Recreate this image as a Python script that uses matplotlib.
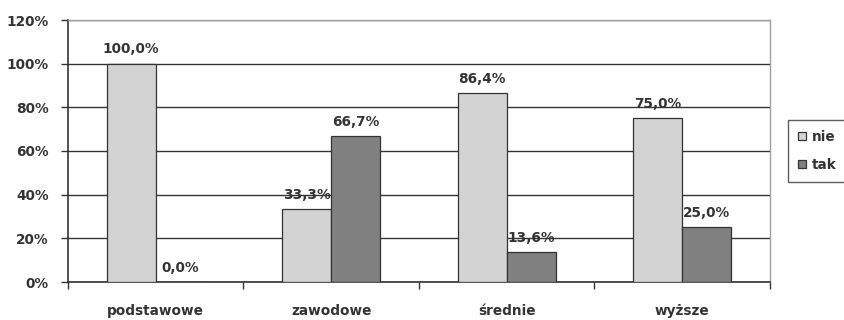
import numpy as np
import matplotlib.pyplot as plt
from matplotlib.ticker import FuncFormatter

# dane z wykresu
kategorie = ['podstawowe', 'zawodowe', 'średnie', 'wyższe']
nie = [100.0, 33.3, 86.4, 75.0]
tak = [0.0, 66.7, 13.6, 25.0]
serie = ['nie', 'tak']
kolory = ['#d3d3d3', '#808080']

plt.rcParams['font.family'] = ['DejaVu Sans']
plt.rcParams['font.weight'] = 'bold'

fig = plt.figure(figsize=(8.45, 3.2), dpi=100)
ax = fig.add_axes([68 / 845, 1 - 282 / 320, (770 - 68) / 845, (282 - 20) / 320])

x = np.arange(len(kategorie))
w = 0.28
b1 = ax.bar(x - w / 2, nie, w, color=kolory[0], edgecolor='#333333', linewidth=0.9, label=serie[0], zorder=3)
b2 = ax.bar(x + w / 2, tak, w, color=kolory[1], edgecolor='#333333', linewidth=0.9, label=serie[1], zorder=3)

# etykiety nad słupkami
for bars in (b1, b2):
    for r in bars:
        v = r.get_height()
        ax.text(r.get_x() + r.get_width() / 2, v + 3.3, f'{v:.1f}%'.replace('.', ','),
                ha='center', va='bottom', fontsize=9.8, fontweight='bold', color='#333333', zorder=4)

ax.set_xlim(-0.5, 3.5)
ax.set_ylim(0, 120)
ax.set_yticks(np.arange(0, 121, 20))
ax.yaxis.set_major_formatter(FuncFormatter(lambda v, p: f'{v:.0f}%'))
ax.yaxis.grid(True, color='#333333', linewidth=1.0, zorder=0)
ax.set_xticks(x)
ax.set_xticklabels(kategorie, fontsize=9.8, fontweight='bold', color='#333333')
ax.set_xticks(np.arange(-0.5, 4, 1), minor=True)
ax.tick_params(axis='x', which='major', length=0, pad=16)
ax.tick_params(axis='x', which='minor', length=5, width=1, color='#333333', direction='out')
ax.tick_params(axis='y', length=5, width=1, color='#333333', labelsize=9.8, labelcolor='#333333', pad=9)

for s in ('left', 'bottom'):
    ax.spines[s].set_color('#333333')
    ax.spines[s].set_linewidth(1.2)
for s in ('top', 'right'):
    ax.spines[s].set_color('#a0a0a0')
    ax.spines[s].set_linewidth(1.0)

leg = ax.legend(loc='center left', bbox_to_anchor=(788 / 845, 1 - 151 / 320), bbox_transform=fig.transFigure,
                fontsize=9.8, frameon=True, fancybox=False, edgecolor='#333333', handlelength=0.55,
                handleheight=0.55, handletextpad=0.45, borderpad=0.75, borderaxespad=0, labelspacing=1.0)
leg.get_frame().set_linewidth(1.0)
for t in leg.get_texts():
    t.set_color('#333333')

fig.savefig('out.png', dpi=100)
